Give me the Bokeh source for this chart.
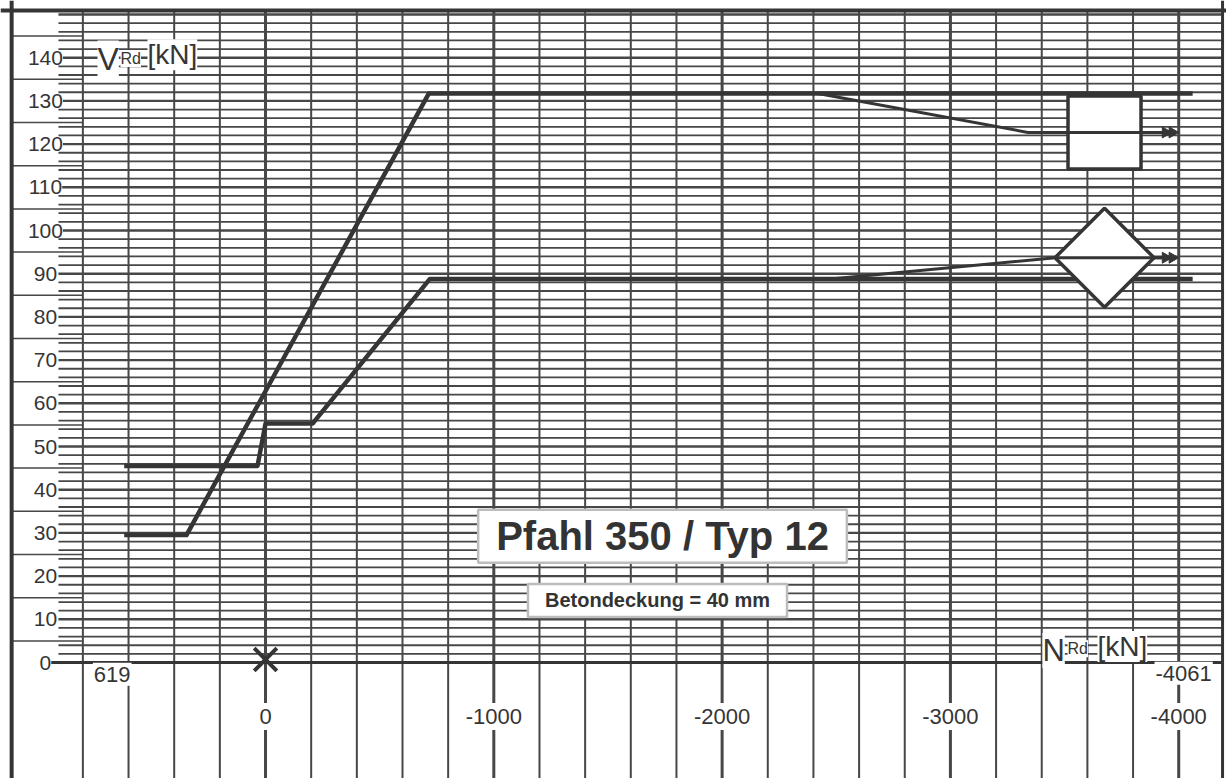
import numpy as np
from bokeh.plotting import figure
from bokeh.models import Range1d, Span
from bokeh.core.properties import value
from bokeh.embed import file_html
from bokeh.resources import INLINE

# ---------------- data ----------------
upper_N = [619, 346, -715, -4061]
upper_V = [29.5, 29.5, 131.7, 131.7]
lower_N = [619, 35, 0, -206, -720, -4061]
lower_V = [45.5, 45.5, 55.3, 55.3, 88.8, 88.8]
upper_branch_N = [-2420, -3340, -3965]
upper_branch_V = [131.7, 122.7, 122.7]
lower_branch_N = [-2475, -3460, -3965]
lower_branch_V = [88.8, 93.7, 93.7]
square_N = [-3675]
square_V = [122.7]
diamond_N = [-3675]
diamond_V = [93.7]
arrow_N = [-3942, -3972, -3942, -3972]
arrow_V = [122.7, 122.7, 93.7, 93.7]
origin_N = [0]
origin_V = [0.7]

x_tick_values = [0, -1000, -2000, -3000, -4000]
x_tick_labels = ["0", "-1000", "-2000", "-3000", "-4000"]
x_limit_values = [619, -4061]
x_limit_labels = ["619", "-4061"]
y_tick_values = [0, 10, 20, 30, 40, 50, 60, 70, 80, 90, 100, 110, 120, 130, 140]
y_tick_labels = [str(v) for v in y_tick_values]

title_text = "Pfahl 350 / Typ 12"
subtitle_text = "Betondeckung = 40 mm"

# ---------------- figure ----------------
INK = "#353535"
GRID = "#474747"
FONT = value("Liberation Sans")

N_LEFT, N_RIGHT = 1160.8, -4209.3
V_BOT, V_TOP = -26.85, 153.24

p = figure(width=1226, height=778, x_range=Range1d(N_LEFT, N_RIGHT),
           y_range=Range1d(V_BOT, V_TOP), x_axis_type=None, y_axis_type=None,
           toolbar_location=None, output_backend="svg", min_border=0,
           outline_line_color=None, background_fill_color="white")

B_LEFT, B_RIGHT, B_TOP = 1112, -4192, 150.9

# vertical grid lines (every 200 kN, heavier every 1000 kN)
vx = np.arange(800, -4001, -200)
thin = [x for x in vx if x % 1000 != 0]
thick = [x for x in vx if x % 1000 == 0]
p.segment(x0=thin, x1=thin, y0=V_BOT, y1=B_TOP, line_color=GRID, line_width=2)
p.segment(x0=thick, x1=thick, y0=V_BOT, y1=B_TOP, line_color=GRID, line_width=3)

# horizontal grid lines (every 2 kN)
hy = np.arange(2, 151, 2)
hy_thin = [y for y in hy if y % 10 != 0]
hy_ten = [y for y in hy if y % 10 == 0]
p.segment(x0=907, x1=B_RIGHT, y0=hy_thin, y1=hy_thin, line_color=GRID, line_width=1.8)
p.segment(x0=907, x1=B_RIGHT, y0=hy_ten, y1=hy_ten, line_color=GRID, line_width=2.4)
# margin lines
hy5 = np.arange(5, 150, 10)
p.segment(x0=B_LEFT, x1=800, y0=hy5, y1=hy5, line_color=GRID, line_width=1.5)
# base line V = 0
p.segment(x0=[951], x1=[B_RIGHT], y0=[0], y1=[0], line_color=INK, line_width=3)

# border
for loc, dim, w in [(B_LEFT, "height", 4), (B_RIGHT, "height", 3), (B_TOP, "width", 4)]:
    p.add_layout(Span(location=loc, dimension=dim, line_color=INK, line_width=w))

# curves
p.line(upper_N, upper_V, line_color=INK, line_width=4.5, line_join="round")
p.line(lower_N, lower_V, line_color=INK, line_width=4.5, line_join="round")
p.line(upper_branch_N, upper_branch_V, line_color=INK, line_width=3)
p.line(lower_branch_N, lower_branch_V, line_color=INK, line_width=3)

# end symbols
p.scatter(square_N, square_V, marker="square", size=73, fill_color="white",
          line_color=INK, line_width=3.5)
p.scatter(diamond_N, diamond_V, marker="square", size=70, angle=np.pi / 4,
          fill_color="white", line_color=INK, line_width=3.5)
# centre lines run through the symbols
p.line(upper_branch_N[1:], upper_branch_V[1:], line_color=INK, line_width=3)
p.line(lower_branch_N[1:], lower_branch_V[1:], line_color=INK, line_width=3)
p.scatter(arrow_N, arrow_V, marker="triangle", size=11, angle=-np.pi / 2,
          fill_color=INK, line_color=INK)
p.scatter(origin_N, origin_V, marker="x", size=32, line_color=INK, line_width=4)

# tick labels
p.text(x=[964] * len(y_tick_values), y=y_tick_values, text=y_tick_labels,
       text_font=FONT, text_font_size="21px", text_color=INK,
       text_align="center", text_baseline="middle",
       background_fill_color="white")
p.text(x=x_tick_values, y=[-12.5] * len(x_tick_values), text=x_tick_labels,
       text_font=FONT, text_font_size="22px", text_color=INK,
       text_align="center", text_baseline="middle",
       background_fill_color="white", padding=dict(left=1, right=1, top=6, bottom=6))
p.text(x=x_limit_values, y=[-2.7, -2.5], text=x_limit_labels, x_offset=[-12, -9],
       text_font=FONT, text_font_size="22px", text_color=INK,
       text_align="center", text_baseline="middle",
       background_fill_color="white", padding=dict(left=1, right=1, top=4, bottom=4))

# axis titles
p.text(x=[736], y=[139.8], text=["V"], text_font=FONT, text_font_size="32px",
       text_color=INK, text_baseline="alphabetic", background_fill_color="white")
p.text(x=[635], y=[139.8], text=["Rd"], text_font=FONT, text_font_size="16px",
       text_color=INK, text_baseline="alphabetic", background_fill_color="white")
p.text(x=[517], y=[140.7], text=["[kN]"], text_font=FONT, text_font_size="28px",
       text_color=INK, text_baseline="alphabetic", background_fill_color="white")
p.text(x=[-3403], y=[2.8], text=["N"], text_font=FONT, text_font_size="31px",
       text_color=INK, text_baseline="alphabetic", background_fill_color="white")
p.text(x=[-3513], y=[3.2], text=["Rd"], text_font=FONT, text_font_size="16px",
       text_color=INK, text_baseline="alphabetic", background_fill_color="white")
p.text(x=[-3644], y=[3.7], text=["[kN]"], text_font=FONT, text_font_size="28px",
       text_color=INK, text_baseline="alphabetic", background_fill_color="white")

# title boxes
p.text(x=[-1739], y=[29.2], text=[title_text], text_font=FONT,
       text_font_style="bold", text_font_size="40px", text_color="#333333",
       text_align="center", text_baseline="alphabetic",
       background_fill_color="white", border_line_color="#bdbdbd",
       border_line_width=2.5, padding=dict(left=18, right=18, top=4, bottom=5))
p.text(x=[-1717], y=[14.35], text=[subtitle_text], text_font=FONT,
       text_font_style="bold", text_font_size="20px", text_color="#333333",
       text_align="center", text_baseline="alphabetic",
       background_fill_color="white", border_line_color="#bdbdbd",
       border_line_width=2.5, padding=dict(left=17, right=17, top=5, bottom=6))

open("out.html", "w").write(file_html(p, INLINE))
